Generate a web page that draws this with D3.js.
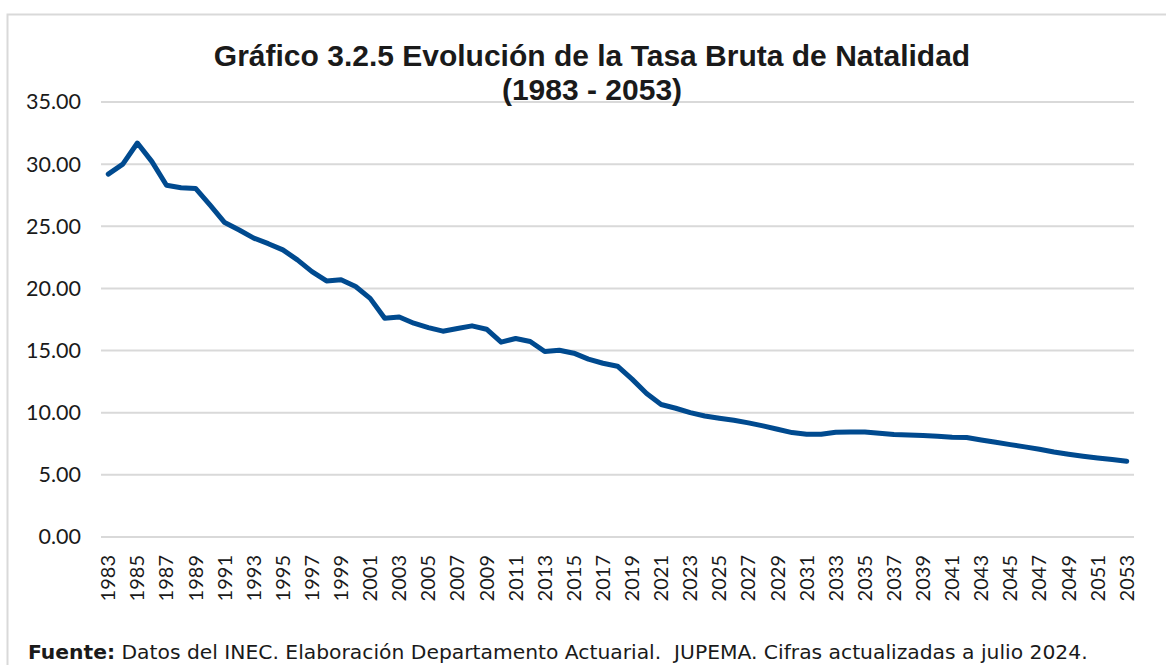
<!DOCTYPE html>
<head>
    <meta charset="utf-8">
    <script src="https://d3js.org/d3.v7.min.js"></script>
    <style>
        body { margin: 0; background: #fff; }
        svg text { fill: #1a1a1a; }
    </style>
</head>
<body>
    <script>
        // data
        const years = d3.range(1983, 2054);
        const values = [
            29.2, 30.0, 31.7, 30.2, 28.3, 28.1, 28.05, 26.7, 25.3, 24.7,
            24.05, 23.6, 23.1, 22.3, 21.35, 20.6, 20.7, 20.15, 19.2, 17.6,
            17.7, 17.2, 16.85, 16.56, 16.77, 16.99, 16.72, 15.68, 15.97, 15.73,
            14.92, 15.03, 14.79, 14.31, 13.98, 13.74, 12.7, 11.55, 10.66, 10.36,
            10.01, 9.74, 9.56, 9.39, 9.18, 8.94, 8.67, 8.4, 8.27, 8.27,
            8.43, 8.45, 8.45, 8.35, 8.24, 8.21, 8.16, 8.1, 8.02, 8.0,
            7.81, 7.62, 7.43, 7.25, 7.06, 6.84, 6.66, 6.5, 6.36, 6.23, 6.09
        ];
        const yTicks = [0, 5, 10, 15, 20, 25, 30, 35];
        const xTickYears = years.filter(y => y % 2 === 1);

        const titleLines = ["Gráfico 3.2.5 Evolución de la Tasa Bruta de Natalidad", "(1983 - 2053)"];
        const sourceBold = "Fuente:";
        const sourceText = " Datos del INEC. Elaboración Departamento Actuarial.  JUPEMA. Cifras actualizadas a julio 2024.";

        const data = years.map((y, i) => ({ year: y, value: values[i] }));

        const W = 1166, H = 665;
        const margin = { top: 102, right: 32, bottom: 128, left: 101 };
        const font = "Lato, 'Noto Sans', sans-serif";

        const svg = d3.select("body")
            .append("svg")
            .attr("width", W)
            .attr("height", H);

        // outer frame (only top/left visible)
        svg.append("rect")
            .attr("x", 7.5).attr("y", 14.5)
            .attr("width", W + 10).attr("height", H + 10)
            .attr("fill", "none")
            .attr("stroke", "#d9d9d9")
            .attr("stroke-width", 2);

        // scales
        const x = d3.scaleBand()
            .domain(years)
            .range([margin.left, W - margin.right])
            .padding(0);

        const y = d3.scaleLinear()
            .domain([0, 35])
            .range([H - margin.bottom, margin.top]);

        const cx = d => x(d) + x.bandwidth() / 2;

        // gridlines
        svg.append("g")
            .selectAll("line")
            .data(yTicks)
            .join("line")
            .attr("x1", margin.left)
            .attr("x2", W - margin.right)
            .attr("y1", d => y(d))
            .attr("y2", d => y(d))
            .attr("stroke", "#d9d9d9")
            .attr("stroke-width", 2);

        // y axis labels
        const yAxis = svg.append("g")
            .attr("transform", `translate(${margin.left - 20},0)`)
            .call(d3.axisLeft(y).tickValues(yTicks).tickFormat(d3.format(".2f")).tickSize(0).tickPadding(0));
        yAxis.select(".domain").remove();
        yAxis.selectAll("text")
            .attr("font-family", font)
            .attr("font-size", 21.5)
            .attr("fill", "#1a1a1a");

        // x axis labels
        const xAxis = svg.append("g")
            .attr("transform", `translate(0,${H - margin.bottom + 16})`)
            .call(d3.axisBottom(x).tickValues(xTickYears).tickSize(0).tickPadding(0));
        xAxis.select(".domain").remove();
        xAxis.selectAll("text")
            .attr("font-family", font)
            .attr("font-size", 20)
            .attr("fill", "#1a1a1a")
            .attr("transform", "rotate(-90)")
            .attr("text-anchor", "end")
            .attr("dy", "0.35em")
            .attr("x", -2)
            .attr("y", 0);

        // line
        const line = d3.line()
            .x(d => cx(d.year))
            .y(d => y(d.value));

        svg.append("path")
            .datum(data)
            .attr("fill", "none")
            .attr("stroke", "#004a8f")
            .attr("stroke-width", 5)
            .attr("stroke-linejoin", "round")
            .attr("stroke-linecap", "round")
            .attr("d", line);

        // title
        svg.append("g")
            .selectAll("text")
            .data(titleLines)
            .join("text")
            .attr("x", 592)
            .attr("y", (d, i) => 66 + i * 34)
            .attr("text-anchor", "middle")
            .attr("font-family", "'Liberation Sans', Arial, sans-serif")
            .attr("font-weight", "bold")
            .attr("font-size", 30)
            .attr("fill", "#000")
            .text(d => d);

        // source note
        const src = svg.append("text")
            .attr("x", 28)
            .attr("y", 659)
            .attr("font-family", "'DejaVu Sans', sans-serif")
            .attr("font-size", 20.3)
            .attr("fill", "#1a1a1a");
        src.append("tspan").attr("font-weight", "bold").text(sourceBold);
        src.append("tspan").style("white-space", "pre").text(sourceText);
    </script>
</body>
